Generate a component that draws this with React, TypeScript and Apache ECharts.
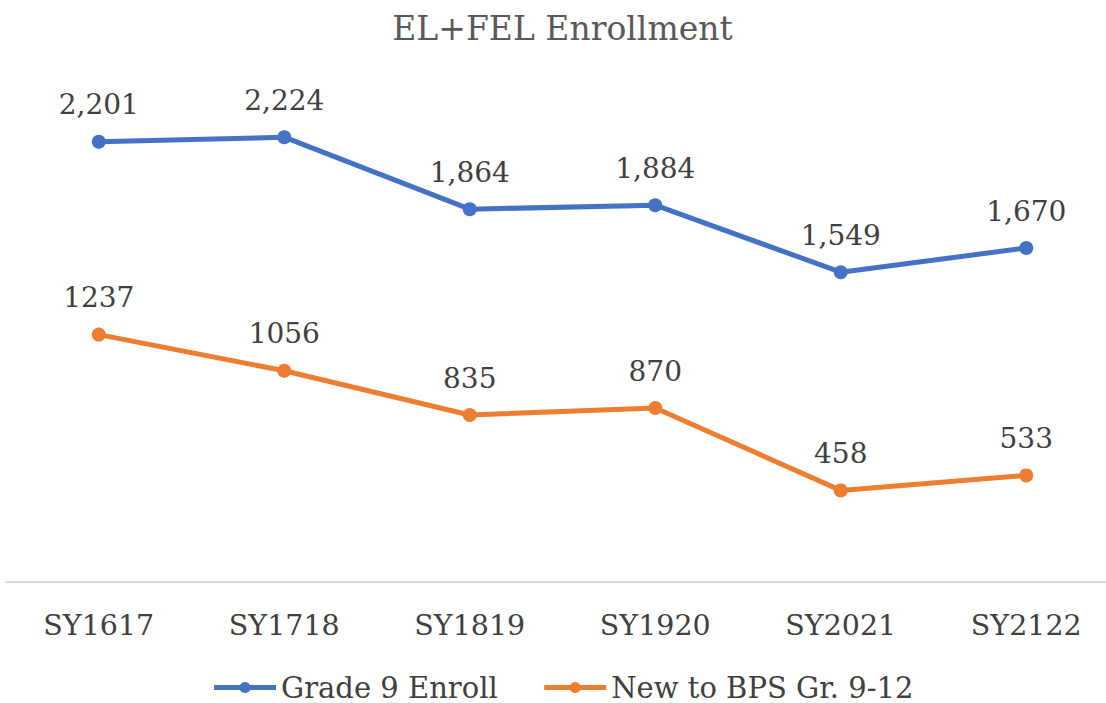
import React, { useEffect, useRef } from "react";
import * as echarts from "echarts";

const categories = ["SY1617", "SY1718", "SY1819", "SY1920", "SY2021", "SY2122"];
const grade9Enroll = [2201, 2224, 1864, 1884, 1549, 1670];
const newToBPS = [1237, 1056, 835, 870, 458, 533];
const seriesNames = ["Grade 9 Enroll", "New to BPS Gr. 9-12"];

const FONT = "DejaVu Serif";
const TEXT = "#404040";

export default function App() {
  const ref = useRef<HTMLDivElement>(null);
  useEffect(() => {
    document.body.style.margin = "0";
    const chart = echarts.init(ref.current!, null, { renderer: "svg" });
    chart.setOption({
      animation: false,
      backgroundColor: "#ffffff",
      title: {
        text: "EL+FEL Enrollment",
        left: "center",
        top: 7,
        textStyle: { fontFamily: FONT, fontSize: 33, fontWeight: "normal", color: "#595959" },
      },
      legend: {
        top: 673,
        left: "center",
        padding: 0,
        itemWidth: 62,
        itemHeight: 14,
        itemGap: 44,
        lineStyle: { width: 5 },
        textStyle: { fontFamily: FONT, fontSize: 29, lineHeight: 28, color: TEXT },
        data: seriesNames,
      },
      grid: { left: 6, right: 6, top: 82, bottom: 121, containLabel: false },
      xAxis: {
        type: "category",
        data: categories,
        boundaryGap: true,
        axisLine: { lineStyle: { color: "#d9d9d9", width: 2 } },
        axisTick: { show: false },
        axisLabel: { fontFamily: FONT, fontSize: 28.5, color: TEXT, margin: 29 },
      },
      yAxis: {
        type: "value",
        min: 0,
        max: 2500,
        show: false,
        splitLine: { show: false },
      },
      series: [
        {
          name: seriesNames[0],
          type: "line",
          data: grade9Enroll,
          symbol: "circle",
          symbolSize: 14,
          lineStyle: { color: "#4472C4", width: 5 },
          itemStyle: { color: "#4472C4" },
          label: {
            show: true,
            position: "top",
            distance: 16,
            fontFamily: FONT,
            fontSize: 28,
            color: TEXT,
            formatter: (p: any) => Number(p.value).toLocaleString("en-US"),
          },
        },
        {
          name: seriesNames[1],
          type: "line",
          data: newToBPS,
          symbol: "circle",
          symbolSize: 14,
          lineStyle: { color: "#ED7D31", width: 5 },
          itemStyle: { color: "#ED7D31" },
          label: {
            show: true,
            position: "top",
            distance: 16,
            fontFamily: FONT,
            fontSize: 28,
            color: TEXT,
            formatter: (p: any) => String(p.value),
          },
        },
      ],
    });
    return () => chart.dispose();
  }, []);
  return (
    <div style={{ position: "absolute", left: 0, top: 0, width: 1106, height: 703, overflow: "hidden" }}>
      <div ref={ref} style={{ position: "absolute", left: 0, top: 0, width: 1125, height: 703 }} />
    </div>
  );
}
